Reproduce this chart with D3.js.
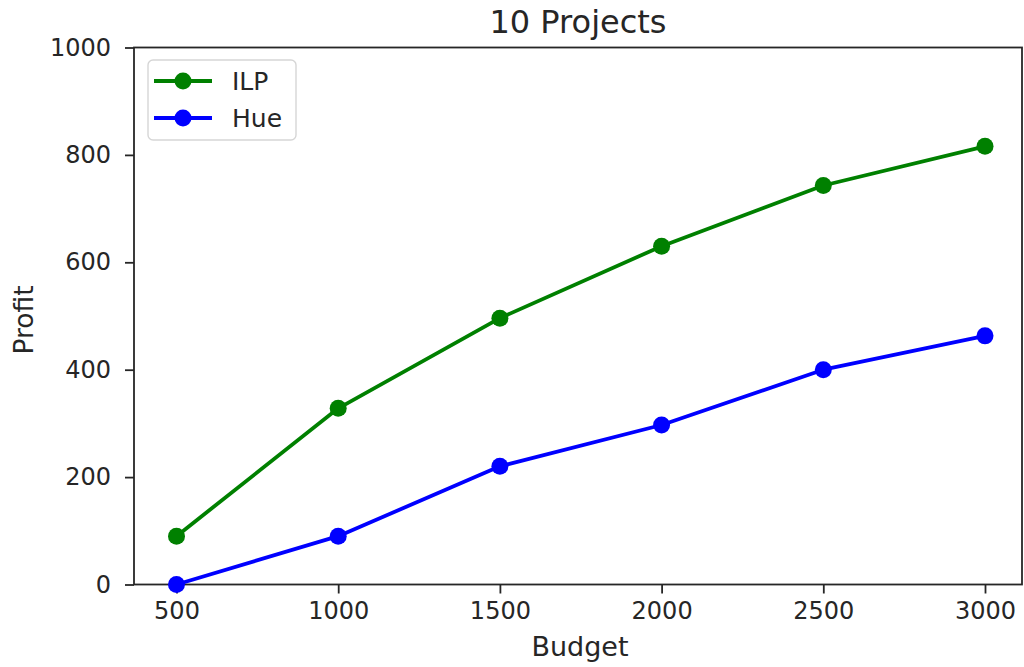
<!DOCTYPE html>
<html>
<head>
<meta charset="utf-8">
<script src="https://cdn.jsdelivr.net/npm/d3@7"></script>
<style>
  html, body { margin: 0; padding: 0; background: #fff; }
  svg { display: block; font-family: "DejaVu Sans", sans-serif; }
</style>
</head>
<body>
<svg id="chart" width="1024" height="667"></svg>
<script>
// Budget levels and profit for each method
const budgets = [500, 1000, 1500, 2000, 2500, 3000];
const ilpProfit = [90, 328, 496, 630, 743, 816];
const hueProfit = [0, 90, 220, 297, 400, 463];
const yTicks = [0, 200, 400, 600, 800, 1000];
const seriesNames = ["ILP", "Hue"];
const seriesColors = ["#008000", "#0000ff"];

const svg = d3.select("#chart");
const plot = { left: 134, right: 1022, top: 47.5, bottom: 584.5 };
const ink = "#262626";

const x = d3.scaleLinear().domain([500, 3000]).range([176.5, 985]);
const y = d3.scaleLinear().domain([0, 1000]).range([plot.bottom, plot.top]);

const series = seriesNames.map((name, i) => ({
  name,
  color: seriesColors[i],
  values: budgets.map((b, j) => ({ b, v: [ilpProfit, hueProfit][i][j] }))
}));

// Axes
const xAxis = svg.append("g")
  .attr("transform", `translate(0,${plot.bottom})`)
  .call(d3.axisBottom(x).tickValues(budgets).tickFormat(d3.format("d")).tickSizeOuter(0).tickSize(9).tickPadding(8));
const yAxis = svg.append("g")
  .attr("transform", `translate(${plot.left},0)`)
  .call(d3.axisLeft(y).tickValues(yTicks).tickFormat(d3.format("d")).tickSizeOuter(0).tickSize(9).tickPadding(14));

[xAxis, yAxis].forEach(g => {
  g.select(".domain").remove();
  g.selectAll(".tick line").attr("stroke", ink).attr("stroke-width", 1.8);
  g.selectAll(".tick text").attr("fill", ink).style("font-size", "24px").style("font-family", "DejaVu Sans");
});

// Frame
svg.append("rect")
  .attr("x", plot.left).attr("y", plot.top)
  .attr("width", plot.right - plot.left).attr("height", plot.bottom - plot.top)
  .attr("fill", "none").attr("stroke", ink).attr("stroke-width", 1.8);

// Lines and markers
const line = d3.line().x(d => x(d.b)).y(d => y(d.v));
series.forEach(s => {
  svg.append("path")
    .datum(s.values)
    .attr("d", line)
    .attr("fill", "none")
    .attr("stroke", s.color)
    .attr("stroke-width", 3.8)
    .attr("stroke-linejoin", "round");
  svg.selectAll(null)
    .data(s.values)
    .enter().append("circle")
    .attr("cx", d => x(d.b))
    .attr("cy", d => y(d.v))
    .attr("r", 8.5)
    .attr("fill", s.color);
});

// Title and axis labels
svg.append("text")
  .attr("x", (plot.left + plot.right) / 2).attr("y", 33)
  .attr("text-anchor", "middle").attr("fill", ink)
  .style("font-size", "32px")
  .text("10 Projects");
svg.append("text")
  .attr("x", 580).attr("y", 656)
  .attr("text-anchor", "middle").attr("fill", ink)
  .style("font-size", "27px")
  .text("Budget");
svg.append("text")
  .attr("transform", `translate(33,${(plot.top + plot.bottom) / 2 + 4}) rotate(-90)`)
  .attr("text-anchor", "middle").attr("fill", ink)
  .style("font-size", "26.5px")
  .text("Profit");

// Legend
const legend = svg.append("g");
legend.append("rect")
  .attr("x", 148).attr("y", 60).attr("width", 148).attr("height", 80)
  .attr("rx", 5).attr("fill", "#fff").attr("fill-opacity", 0.8)
  .attr("stroke", "#d6d6d6").attr("stroke-width", 1.4);
series.forEach((s, i) => {
  const ly = 81 + i * 37;
  legend.append("line")
    .attr("x1", 154).attr("x2", 212).attr("y1", ly).attr("y2", ly)
    .attr("stroke", s.color).attr("stroke-width", 3.8);
  legend.append("circle").attr("cx", 183).attr("cy", ly).attr("r", 8.5).attr("fill", s.color);
  legend.append("text")
    .attr("x", 232).attr("y", ly).attr("dy", "0.36em")
    .attr("fill", ink).style("font-size", "25px")
    .text(s.name);
});
</script>
</body>
</html>
